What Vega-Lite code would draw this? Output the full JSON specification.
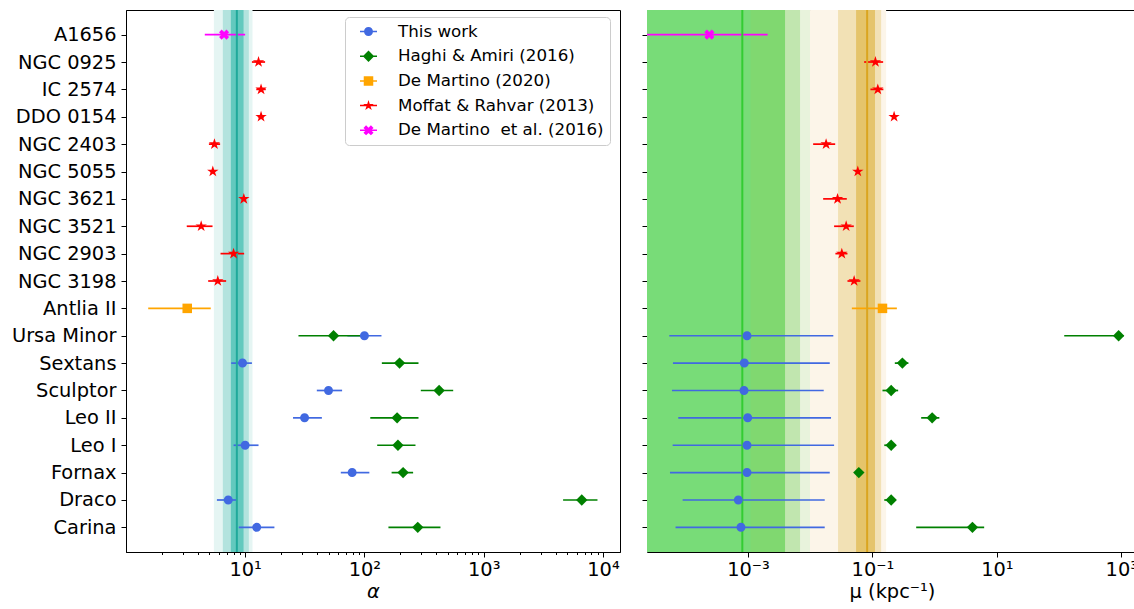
{
  "$schema": "https://vega.github.io/schema/vega-lite/v6.json",
  "padding": {"left": 5, "top": 8, "right": 0, "bottom": 2},
  "config": {
    "font": "DejaVu Sans",
    "view": {"stroke": null},
    "axis": {"labelFont": "DejaVu Sans", "titleFont": "DejaVu Sans", "labelColor": "#000", "titleColor": "#000", "domainColor": "#000", "tickColor": "#000", "grid": false, "titleFontWeight": "normal", "labelFontSize": 19.4, "titleFontSize": 19.4, "domainWidth": 1, "tickWidth": 1}
  },
  "datasets": {
    "alpha": [
      {"name": "A1656", "source": "De Martino  et al. (2016)", "v": 6.66, "lo": 4.59, "hi": 10.0},
      {"name": "NGC 0925", "source": "Moffat & Rahvar (2013)", "v": 12.95, "lo": 11.4, "hi": 14.7},
      {"name": "IC 2574", "source": "Moffat & Rahvar (2013)", "v": 13.6, "lo": 12.4, "hi": 14.9},
      {"name": "DDO 0154", "source": "Moffat & Rahvar (2013)", "v": 13.6, "lo": 12.8, "hi": 14.4},
      {"name": "NGC 2403", "source": "Moffat & Rahvar (2013)", "v": 5.53, "lo": 4.97, "hi": 6.17},
      {"name": "NGC 5055", "source": "Moffat & Rahvar (2013)", "v": 5.36, "lo": 5.1, "hi": 5.6},
      {"name": "NGC 3621", "source": "Moffat & Rahvar (2013)", "v": 9.75, "lo": 9.3, "hi": 10.2},
      {"name": "NGC 3521", "source": "Moffat & Rahvar (2013)", "v": 4.28, "lo": 3.24, "hi": 5.33},
      {"name": "NGC 2903", "source": "Moffat & Rahvar (2013)", "v": 8.0, "lo": 6.22, "hi": 9.81},
      {"name": "NGC 3198", "source": "Moffat & Rahvar (2013)", "v": 5.9, "lo": 4.9, "hi": 6.93},
      {"name": "Antlia II", "source": "De Martino (2020)", "v": 3.27, "lo": 1.54, "hi": 5.15},
      {"name": "Ursa Minor", "source": "This work", "v": 100, "lo": 72, "hi": 139},
      {"name": "Sextans", "source": "This work", "v": 9.51, "lo": 7.64, "hi": 11.4},
      {"name": "Sculptor", "source": "This work", "v": 50.0, "lo": 39.9, "hi": 65.0},
      {"name": "Leo II", "source": "This work", "v": 31.5, "lo": 25.2, "hi": 44.0},
      {"name": "Leo I", "source": "This work", "v": 10.0, "lo": 8.0, "hi": 12.95},
      {"name": "Fornax", "source": "This work", "v": 78.9, "lo": 63.4, "hi": 110},
      {"name": "Draco", "source": "This work", "v": 7.22, "lo": 5.8, "hi": 8.41},
      {"name": "Carina", "source": "This work", "v": 12.5, "lo": 8.85, "hi": 17.6},
      {"name": "Ursa Minor", "source": "Haghi & Amiri (2016)", "v": 55.1, "lo": 28.0, "hi": 95},
      {"name": "Sextans", "source": "Haghi & Amiri (2016)", "v": 197, "lo": 140, "hi": 284},
      {"name": "Sculptor", "source": "Haghi & Amiri (2016)", "v": 423, "lo": 297, "hi": 555},
      {"name": "Leo II", "source": "Haghi & Amiri (2016)", "v": 188, "lo": 112, "hi": 284},
      {"name": "Leo I", "source": "Haghi & Amiri (2016)", "v": 191, "lo": 128, "hi": 268},
      {"name": "Fornax", "source": "Haghi & Amiri (2016)", "v": 211, "lo": 169, "hi": 256},
      {"name": "Draco", "source": "Haghi & Amiri (2016)", "v": 6640, "lo": 4630, "hi": 8990},
      {"name": "Carina", "source": "Haghi & Amiri (2016)", "v": 280, "lo": 159, "hi": 434}
    ],
    "mu": [
      {"name": "A1656", "source": "De Martino  et al. (2016)", "v": 0.000239, "lo": 0.00001, "hi": 0.00207},
      {"name": "NGC 0925", "source": "Moffat & Rahvar (2013)", "v": 0.1117, "lo": 0.0736, "hi": 0.1486},
      {"name": "IC 2574", "source": "Moffat & Rahvar (2013)", "v": 0.122, "lo": 0.0929, "hi": 0.15},
      {"name": "DDO 0154", "source": "Moffat & Rahvar (2013)", "v": 0.223, "lo": 0.212, "hi": 0.234},
      {"name": "NGC 2403", "source": "Moffat & Rahvar (2013)", "v": 0.018, "lo": 0.01114, "hi": 0.0252},
      {"name": "NGC 5055", "source": "Moffat & Rahvar (2013)", "v": 0.0582, "lo": 0.0555, "hi": 0.061},
      {"name": "NGC 3621", "source": "Moffat & Rahvar (2013)", "v": 0.0275, "lo": 0.01614, "hi": 0.0387},
      {"name": "NGC 3521", "source": "Moffat & Rahvar (2013)", "v": 0.0378, "lo": 0.0242, "hi": 0.0502},
      {"name": "NGC 2903", "source": "Moffat & Rahvar (2013)", "v": 0.0322, "lo": 0.0254, "hi": 0.0397},
      {"name": "NGC 3198", "source": "Moffat & Rahvar (2013)", "v": 0.0508, "lo": 0.0397, "hi": 0.0641},
      {"name": "Antlia II", "source": "De Martino (2020)", "v": 0.145, "lo": 0.0467, "hi": 0.247},
      {"name": "Ursa Minor", "source": "This work", "v": 0.000963, "lo": 0.0000543, "hi": 0.0235},
      {"name": "Sextans", "source": "This work", "v": 0.000872, "lo": 0.0000622, "hi": 0.0206},
      {"name": "Sculptor", "source": "This work", "v": 0.000863, "lo": 0.00006, "hi": 0.01648},
      {"name": "Leo II", "source": "This work", "v": 0.000989, "lo": 0.0000757, "hi": 0.0216},
      {"name": "Leo I", "source": "This work", "v": 0.000963, "lo": 0.0000615, "hi": 0.0242},
      {"name": "Fornax", "source": "This work", "v": 0.000963, "lo": 0.0000557, "hi": 0.0206},
      {"name": "Draco", "source": "This work", "v": 0.000699, "lo": 0.000089, "hi": 0.0171},
      {"name": "Carina", "source": "This work", "v": 0.000771, "lo": 0.0000685, "hi": 0.0171},
      {"name": "Ursa Minor", "source": "Haghi & Amiri (2016)", "v": 906, "lo": 121, "hi": 1100},
      {"name": "Sextans", "source": "Haghi & Amiri (2016)", "v": 0.303, "lo": 0.229, "hi": 0.379},
      {"name": "Sculptor", "source": "Haghi & Amiri (2016)", "v": 0.2, "lo": 0.145, "hi": 0.259},
      {"name": "Leo II", "source": "Haghi & Amiri (2016)", "v": 0.912, "lo": 0.607, "hi": 1.19},
      {"name": "Leo I", "source": "Haghi & Amiri (2016)", "v": 0.2, "lo": 0.155, "hi": 0.235},
      {"name": "Fornax", "source": "Haghi & Amiri (2016)", "v": 0.0604, "lo": 0.056, "hi": 0.065},
      {"name": "Draco", "source": "Haghi & Amiri (2016)", "v": 0.2, "lo": 0.155, "hi": 0.235},
      {"name": "Carina", "source": "Haghi & Amiri (2016)", "v": 4.05, "lo": 0.505, "hi": 6.25}
    ],
    "alphaBands": [
      {"level": "a3", "lo": 5.47, "hi": 11.53},
      {"level": "a2", "lo": 6.5, "hi": 10.74},
      {"level": "a1", "lo": 7.59, "hi": 9.7}
    ],
    "alphaCenter": [{"group": "a", "v": 8.52}],
    "muBands": [
      {"level": "g4", "lo": 0.00001, "hi": 0.00993},
      {"level": "g3", "lo": 0.00001, "hi": 0.00686},
      {"level": "g2", "lo": 0.00001, "hi": 0.00394},
      {"level": "g1", "lo": 0.00001, "hi": 0.0011},
      {"level": "o3", "lo": 0.00993, "hi": 0.166},
      {"level": "o2", "lo": 0.028, "hi": 0.138},
      {"level": "o1", "lo": 0.0546, "hi": 0.11}
    ],
    "muCenter": [{"group": "g", "v": 0.00081}, {"group": "o", "v": 0.0822}]
  },
  "spacing": 20,
  "resolve": {"scale": {"color": "independent", "shape": "independent", "fill": "independent", "stroke": "independent"}},
  "hconcat": [
    {
      "width": 494,
      "height": 542,
      "view": {"stroke": "#000", "strokeWidth": 1},
      "resolve": {"scale": {"color": "independent", "shape": "independent"}},
      "layer": [
        {
          "data": {"name": "alphaBands"},
          "mark": {"type": "rect", "clip": true},
          "encoding": {
            "x": {"field": "lo", "type": "quantitative", "scale": {"type": "log", "domain": [1.003, 13888], "nice": false},
              "axis": {"values": [2,3,4,5,6,7,8,9,10,20,30,40,50,60,70,80,90,100,200,300,400,500,600,700,800,900,1000,2000,3000,4000,5000,6000,7000,8000,9000,10000],
                "labelExpr": "datum.value == 10 ? '10¹' : datum.value == 100 ? '10²' : datum.value == 1000 ? '10³' : datum.value == 10000 ? '10⁴' : ''",
                "labelFlush": false, "labelOverlap": false, "labelPadding": 3,
                "tickSize": {"condition": {"test": "datum.value == 10 || datum.value == 100 || datum.value == 1000 || datum.value == 10000", "value": 5}, "value": 2.5},
                "title": "α", "titleFontStyle": "italic", "titlePadding": 4}},
            "x2": {"field": "hi"},
            "fill": {"field": "level", "type": "nominal", "scale": {"domain": ["a3", "a2", "a1"], "range": ["#e5f5f3", "#b3e3de", "#63c9be"]}, "legend": null}
          }
        },
        {
          "data": {"name": "alpha"},
          "mark": {"type": "rule", "strokeWidth": 1.7, "clip": true},
          "encoding": {
            "x": {"field": "lo", "type": "quantitative", "scale": {"type": "log", "domain": [1.003, 13888], "nice": false}},
            "x2": {"field": "hi"},
            "y": {"field": "name", "type": "nominal", "sort": ["A1656","NGC 0925","IC 2574","DDO 0154","NGC 2403","NGC 5055","NGC 3621","NGC 3521","NGC 2903","NGC 3198","Antlia II","Ursa Minor","Sextans","Sculptor","Leo II","Leo I","Fornax","Draco","Carina"],
              "scale": {"type": "point", "padding": 0.9},
              "axis": {"title": null, "labelFontSize": 19.4, "tickSize": 5, "labelPadding": 5, "minExtent": 120, "maxExtent": 120}},
            "color": {"field": "source", "type": "nominal", "legend": null, "scale": {"domain": ["This work", "Haghi & Amiri (2016)", "De Martino (2020)", "Moffat & Rahvar (2013)", "De Martino  et al. (2016)"], "range": ["#4169e1", "#008000", "#ffa500", "#ff0000", "#ff00ff"]}}
          }
        },
        {
          "data": {"name": "alphaCenter"},
          "mark": {"type": "rule", "strokeWidth": 2},
          "encoding": {
            "x": {"field": "v", "type": "quantitative", "scale": {"type": "log", "domain": [1.003, 13888], "nice": false}},
            "stroke": {"field": "group", "type": "nominal", "scale": {"domain": ["a"], "range": ["#20a99b"]}, "legend": null}
          }
        },
        {
          "data": {"name": "alpha"},
          "mark": {"type": "point", "filled": true, "opacity": 1, "size": 100, "clip": true},
          "encoding": {
            "x": {"field": "v", "type": "quantitative", "scale": {"type": "log", "domain": [1.003, 13888], "nice": false}},
            "y": {"field": "name", "type": "nominal", "sort": ["A1656","NGC 0925","IC 2574","DDO 0154","NGC 2403","NGC 5055","NGC 3621","NGC 3521","NGC 2903","NGC 3198","Antlia II","Ursa Minor","Sextans","Sculptor","Leo II","Leo I","Fornax","Draco","Carina"]},
            "color": {"field": "source", "type": "nominal", "legend": null, "scale": {"domain": ["This work", "Haghi & Amiri (2016)", "De Martino (2020)", "Moffat & Rahvar (2013)", "De Martino  et al. (2016)"], "range": ["#4169e1", "#008000", "#ffa500", "#ff0000", "#ff00ff"]}},
            "shape": {"field": "source", "type": "nominal", "legend": null, "scale": {"domain": ["This work", "Haghi & Amiri (2016)", "De Martino (2020)", "Moffat & Rahvar (2013)", "De Martino  et al. (2016)"],
              "range": ["M0.9,0A0.9,0.9 0 1,1 -0.9,0A0.9,0.9 0 1,1 0.9,0Z", "M0,-1.14L1.14,0L0,1.14L-1.14,0Z", "M-0.95,-0.95H0.95V0.95H-0.95Z", "M0,-1.2L0.27,-0.371L1.141,-0.371L0.436,0.142L0.705,0.971L0,0.458L-0.705,0.971L-0.436,0.142L-1.141,-0.371L-0.27,-0.371Z", "M1.003,-0.483L0.52,0L1.003,0.483L0.483,1.003L0,0.52L-0.483,1.003L-1.003,0.483L-0.52,0L-1.003,-0.483L-0.483,-1.003L0,-0.52L0.483,-1.003Z"]}}
          }
        },
        {
          "data": {"name": "alpha"},
          "mark": {"type": "point", "filled": true, "opacity": 1, "size": 0},
          "encoding": {
            "x": {"field": "v", "type": "quantitative", "scale": {"type": "log", "domain": [1.003, 13888], "nice": false}},
            "y": {"field": "name", "type": "nominal", "sort": ["A1656","NGC 0925","IC 2574","DDO 0154","NGC 2403","NGC 5055","NGC 3621","NGC 3521","NGC 2903","NGC 3198","Antlia II","Ursa Minor","Sextans","Sculptor","Leo II","Leo I","Fornax","Draco","Carina"]},
            "color": {"field": "source", "type": "nominal", "scale": {"domain": ["This work", "Haghi & Amiri (2016)", "De Martino (2020)", "Moffat & Rahvar (2013)", "De Martino  et al. (2016)"], "range": ["#4169e1", "#008000", "#ffa500", "#ff0000", "#ff00ff"]},
              "legend": {"title": null, "orient": "none", "legendX": 219, "legendY": 7, "labelFontSize": 16.7, "labelFont": "DejaVu Sans", "labelColor": "#000", "labelLimit": 400, "symbolSize": 289, "symbolStrokeWidth": 0, "symbolOffset": 9, "labelOffset": 21, "padding": 6, "rowPadding": 6.7, "strokeColor": "#cccccc", "fillColor": "rgba(255,255,255,0.8)", "cornerRadius": 4,
                "labelExpr": "replace(datum.label, '  ', '\u00a0 ')"}},
            "shape": {"field": "source", "type": "nominal", "scale": {"domain": ["This work", "Haghi & Amiri (2016)", "De Martino (2020)", "Moffat & Rahvar (2013)", "De Martino  et al. (2016)"],
              "range": ["M-1,-0.09H1V0.09H-1ZM0.53,0A0.53,0.53 0 1,1 -0.53,0A0.53,0.53 0 1,1 0.53,0Z", "M-1,-0.09H1V0.09H-1ZM0,-0.67L0.67,0L0,0.67L-0.67,0Z", "M-1,-0.09H1V0.09H-1ZM-0.56,-0.56H0.56V0.56H-0.56Z", "M-1,-0.09H1V0.09H-1ZM0,-0.65L0.146,-0.2L0.618,-0.2L0.236,0.077L0.382,0.526L0,0.248L-0.382,0.526L-0.236,0.077L-0.618,-0.2L-0.146,-0.2Z", "M-1,-0.09H1V0.09H-1ZM0.592,-0.285L0.307,0L0.592,0.285L0.285,0.592L0,0.307L-0.285,0.592L-0.592,0.285L-0.307,0L-0.592,-0.285L-0.285,-0.592L0,-0.307L0.285,-0.592Z"]}}
          }
        }
      ]
    },
    {
      "width": 490,
      "height": 542,
      "resolve": {"axis": {"x": "independent"}},
      "layer": [
        {
          "data": {"name": "muBands"},
          "mark": {"type": "rect", "clip": true},
          "encoding": {
            "x": {"field": "lo", "type": "quantitative", "scale": {"type": "log", "domain": [0.0000238, 1788], "nice": false},
              "axis": {"values": [0.001, 0.1, 10, 1000],
                "labelExpr": "datum.value < 0.01 ? '10⁻³' : datum.value < 1 ? '10⁻¹' : datum.value < 100 ? '10¹' : '10³'",
                "labelFlush": false, "labelOverlap": false, "labelPadding": 3, "tickSize": 5,
                "title": "μ (kpc⁻¹)", "titlePadding": 4}},
            "x2": {"field": "hi"},
            "fill": {"field": "level", "type": "nominal", "scale": {"domain": ["g4", "g3", "g2", "g1", "o3", "o2", "o1"], "range": ["#e8f3dc", "#c1e6af", "#80d870", "#78dc78", "#fcf5e9", "#f2e1b5", "#e5c46b"]}, "legend": null}
          }
        },
        {
          "data": {"name": "mu"},
          "mark": {"type": "rule", "strokeWidth": 1.7, "clip": true},
          "encoding": {
            "x": {"field": "lo", "type": "quantitative", "scale": {"type": "log", "domain": [0.0000238, 1788], "nice": false}, "axis": null},
            "x2": {"field": "hi"},
            "y": {"field": "name", "type": "nominal", "sort": ["A1656","NGC 0925","IC 2574","DDO 0154","NGC 2403","NGC 5055","NGC 3621","NGC 3521","NGC 2903","NGC 3198","Antlia II","Ursa Minor","Sextans","Sculptor","Leo II","Leo I","Fornax","Draco","Carina"],
              "scale": {"type": "point", "padding": 0.9},
              "axis": {"title": null, "labels": false, "tickSize": 5, "minExtent": 5, "maxExtent": 5}},
            "color": {"field": "source", "type": "nominal", "scale": {"domain": ["This work", "Haghi & Amiri (2016)", "De Martino (2020)", "Moffat & Rahvar (2013)", "De Martino  et al. (2016)"], "range": ["#4169e1", "#008000", "#ffa500", "#ff0000", "#ff00ff"]}, "legend": null}
          }
        },
        {
          "data": {"name": "muCenter"},
          "mark": {"type": "rule", "strokeWidth": 2},
          "encoding": {
            "x": {"field": "v", "type": "quantitative", "scale": {"type": "log", "domain": [0.0000238, 1788], "nice": false},
              "axis": {"orient": "top", "domain": true, "ticks": false, "labels": false, "title": null, "minExtent": 0, "maxExtent": 0}},
            "stroke": {"field": "group", "type": "nominal", "scale": {"domain": ["g", "o"], "range": ["#33cc33", "#daa520"]}, "legend": null}
          }
        },
        {
          "data": {"name": "mu"},
          "mark": {"type": "point", "filled": true, "opacity": 1, "size": 100, "clip": true},
          "encoding": {
            "x": {"field": "v", "type": "quantitative", "scale": {"type": "log", "domain": [0.0000238, 1788], "nice": false}, "axis": null},
            "y": {"field": "name", "type": "nominal", "sort": ["A1656","NGC 0925","IC 2574","DDO 0154","NGC 2403","NGC 5055","NGC 3621","NGC 3521","NGC 2903","NGC 3198","Antlia II","Ursa Minor","Sextans","Sculptor","Leo II","Leo I","Fornax","Draco","Carina"]},
            "color": {"field": "source", "type": "nominal", "scale": {"domain": ["This work", "Haghi & Amiri (2016)", "De Martino (2020)", "Moffat & Rahvar (2013)", "De Martino  et al. (2016)"], "range": ["#4169e1", "#008000", "#ffa500", "#ff0000", "#ff00ff"]}, "legend": null},
            "shape": {"field": "source", "type": "nominal", "scale": {"domain": ["This work", "Haghi & Amiri (2016)", "De Martino (2020)", "Moffat & Rahvar (2013)", "De Martino  et al. (2016)"],
              "range": ["M0.9,0A0.9,0.9 0 1,1 -0.9,0A0.9,0.9 0 1,1 0.9,0Z", "M0,-1.14L1.14,0L0,1.14L-1.14,0Z", "M-0.95,-0.95H0.95V0.95H-0.95Z", "M0,-1.2L0.27,-0.371L1.141,-0.371L0.436,0.142L0.705,0.971L0,0.458L-0.705,0.971L-0.436,0.142L-1.141,-0.371L-0.27,-0.371Z", "M1.003,-0.483L0.52,0L1.003,0.483L0.483,1.003L0,0.52L-0.483,1.003L-1.003,0.483L-0.52,0L-1.003,-0.483L-0.483,-1.003L0,-0.52L0.483,-1.003Z"]}, "legend": null}
          }
        }
      ]
    }
  ]
}
